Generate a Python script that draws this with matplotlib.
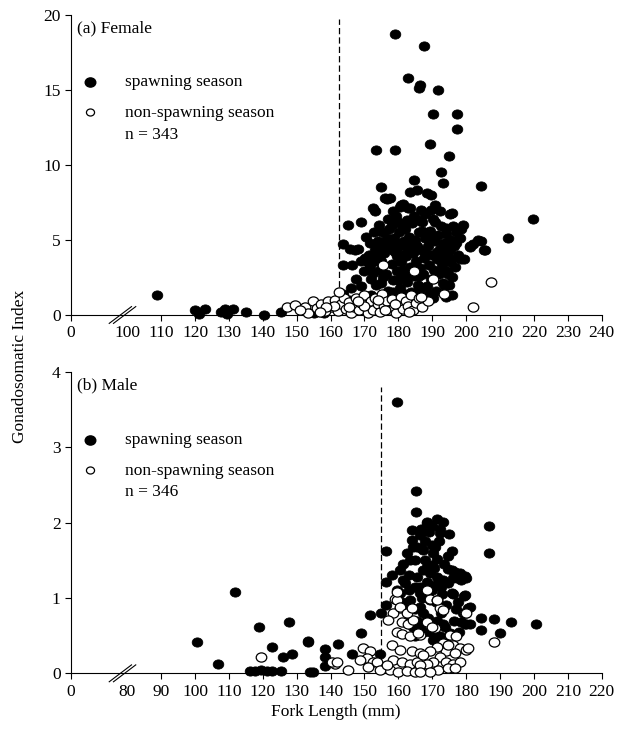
import matplotlib
matplotlib.use("Agg")
import matplotlib.pyplot as plt
import numpy as np
from matplotlib.path import Path
from matplotlib.transforms import Affine2D

plt.rcParams["font.family"] = ["Liberation Serif", "DejaVu Serif"]

# ---- (a) Female: fork length (mm), gonadosomatic index ----
fem_spawn = [
    # small fish
    (108.7, 1.3), (120.0, 0.3), (121.2, 0.05), (122.9, 0.4), (127.8, 0.2),
    (128.8, 0.4), (129.3, 0.05), (131.1, 0.4), (134.9, 0.2), (140.4, 0.0),
    (145.3, 0.2), (155.1, 0.15), (155.4, 0.2), (158.0, 0.1),
    # high values
    (179.0, 18.7), (187.6, 17.9), (182.7, 15.8), (186.0, 15.1), (186.5, 15.3),
    (191.6, 15.0), (190.1, 13.4), (197.2, 13.4), (197.2, 12.4), (173.4, 11.0),
    (179.0, 11.0), (189.3, 11.4), (194.9, 10.6), (192.5, 9.5), (193.2, 8.8),
    (204.5, 8.6), (184.5, 9.0), (174.8, 8.5), (176.1, 7.8), (176.6, 7.75),
    (183.4, 8.2), (185.4, 8.3), (188.3, 8.1), (189.6, 8.0), (219.6, 6.4),
    (212.4, 5.1), (204.5, 4.9), (205.3, 4.3), (201.1, 4.5), (202.1, 4.7),
    (198.4, 5.7), (199.1, 6.0), (198.1, 5.1), (199.3, 3.7), (194.9, 3.8),
    # middle band
    (165.2, 6.0), (169.1, 6.2), (163.7, 4.7), (165.7, 4.4), (167.2, 4.3),
    (163.7, 3.3), (166.2, 3.3), (172.4, 7.1), (173.1, 6.9), (174.2, 6.0),
    (177.0, 6.4), (180.4, 7.2), (181.4, 7.4), (183.4, 7.1), (186.8, 7.0),
    (190.8, 7.3), (192.2, 6.9), (195.2, 6.7), (195.9, 6.8), (180.0, 6.2),
    (182.4, 6.3), (185.8, 6.3), (190.8, 6.2), (194.2, 5.8), (177.5, 7.8),
    (180.9, 7.3), (182.9, 7.1), (178.5, 6.9), (184.5, 6.6), (188.0, 6.7),
    (189.5, 7.0),
    (170.1, 3.8), (171.6, 3.2), (172.6, 2.8), (174.0, 4.6), (175.5, 4.6),
    (177.5, 4.8), (178.5, 4.3), (179.5, 3.9), (169.1, 1.9), (175.0, 2.1),
    (168.6, 0.9), (163.7, 1.4), (165.5, 1.0),
    (201.1, 4.6), (203.5, 5.0), (205.5, 4.3), (195.2, 4.4), (197.6, 3.8),
    (198.6, 3.7), (194.7, 2.7), (193.7, 1.9), (195.7, 1.3), (194.2, 1.2),
    (190.3, 1.1), (183.4, 0.67), (179.2, 1.0),
    # dense core
    (170.5, 5.2), (171.2, 4.0), (172.0, 2.4), (172.8, 5.5), (173.4, 3.6),
    (173.9, 4.9), (174.6, 3.0), (175.2, 5.5), (175.8, 4.1), (176.3, 2.7),
    (176.9, 1.6), (177.3, 5.7), (177.7, 4.5), (178.1, 3.4), (178.4, 2.3),
    (178.8, 5.1), (179.1, 4.2), (179.4, 6.6), (179.7, 2.9), (180.1, 5.5),
    (180.4, 4.6), (180.6, 1.8), (180.9, 3.5), (181.2, 6.0), (181.5, 2.6),
    (181.7, 4.9), (182.0, 5.7), (182.3, 3.9), (182.6, 2.2), (182.9, 4.4),
    (183.2, 5.2), (183.5, 3.2), (183.8, 1.5), (184.1, 6.1), (184.4, 4.1),
    (184.7, 2.6), (185.0, 5.0), (185.3, 3.6), (185.6, 4.6), (185.9, 2.0),
    (186.2, 5.5), (186.5, 3.1), (186.8, 4.3), (187.1, 6.2), (187.4, 2.7),
    (187.7, 3.8), (188.0, 5.1), (188.3, 1.9), (188.6, 4.6), (188.9, 3.3),
    (189.2, 5.6), (189.5, 2.4), (189.8, 4.0), (190.1, 6.4), (190.4, 3.0),
    (190.7, 4.9), (191.0, 1.6), (191.3, 3.7), (191.6, 5.3), (191.9, 2.7),
    (192.2, 4.4), (192.5, 5.9), (192.8, 3.4), (193.1, 2.1), (193.4, 4.8),
    (193.7, 3.9), (194.1, 5.4), (194.4, 2.9), (194.7, 4.2), (195.1, 3.5),
    (195.5, 5.0), (195.9, 2.5), (196.3, 4.6), (196.7, 3.2), (197.1, 5.5),
    (197.5, 4.0), (196.0, 5.9), (178.0, 6.0), (176.0, 4.8), (174.0, 3.9),
    (171.5, 4.8), (170.0, 2.9), (169.0, 3.6), (168.0, 4.4), (184.0, 3.0),
    (187.0, 5.6), (181.0, 4.0), (183.0, 2.8), (189.0, 1.4), (185.0, 1.2),
    (177.0, 1.3), (172.0, 1.3), (167.5, 2.4), (166.0, 1.8),
    (171.0, 3.5), (173.0, 4.3), (175.0, 3.6), (176.5, 5.1), (179.5, 4.8),
    (181.5, 3.0), (183.5, 4.8), (186.0, 2.6), (188.0, 4.2), (190.0, 5.2),
    (191.5, 4.2), (193.0, 3.0), (195.0, 2.0), (197.0, 4.8), (180.0, 2.3),
    (182.0, 1.4), (186.5, 1.7), (175.5, 2.5), (178.5, 1.5), (173.5, 2.0),
]
fem_nonspawn = [
    (147.0, 0.5), (149.5, 0.65), (152.4, 0.5), (154.9, 0.9), (153.4, 0.15),
    (151.0, 0.3), (156.0, 0.45), (157.2, 0.75), (158.3, 0.25), (159.2, 0.95),
    (160.4, 0.5), (161.3, 1.0), (162.1, 0.25), (163.0, 0.7), (163.9, 1.15),
    (164.6, 0.4), (165.3, 0.85), (166.0, 0.1), (166.9, 0.55), (167.6, 1.1),
    (168.3, 0.3), (169.1, 0.8), (169.8, 1.3), (170.5, 0.5), (171.1, 0.1),
    (171.8, 0.9), (172.5, 0.35), (173.2, 1.1), (173.9, 0.7), (174.6, 0.2),
    (175.3, 1.4), (175.9, 0.6), (176.6, 0.95), (177.3, 0.3), (178.0, 1.05),
    (178.7, 0.5), (179.3, 0.1), (180.0, 0.8), (180.8, 1.2), (181.5, 0.4),
    (182.2, 0.9), (182.9, 0.6), (183.6, 1.3), (184.3, 0.3), (185.1, 0.8),
    (186.1, 1.1), (187.1, 0.5), (188.6, 0.9), (175.5, 3.3), (184.6, 2.9),
    (190.3, 2.4), (207.2, 2.2), (202.1, 0.5), (193.4, 1.4), (186.8, 1.2),
    (161.0, 0.6), (158.5, 0.5), (165.5, 0.5), (170.0, 0.6), (176.0, 0.3),
    (168.0, 0.9), (174.0, 1.0), (179.0, 0.7), (183.0, 0.2), (162.5, 1.5),
    (156.8, 0.2),
]

# ---- (b) Male ----
male_spawn = [
    (100.5, 0.41), (106.8, 0.12), (111.7, 1.08), (118.9, 0.61), (122.8, 0.35),
    (127.7, 0.68), (128.5, 0.26), (126.0, 0.21), (133.2, 0.43), (116.2, 0.03),
    (117.7, 0.03), (119.6, 0.05), (121.1, 0.03), (122.6, 0.03), (125.3, 0.03),
    (133.9, 0.02), (134.9, 0.02),
    (159.5, 3.60), (165.1, 2.42), (165.1, 2.14), (168.3, 2.00), (173.2, 2.01),
    (172.2, 1.92), (172.2, 1.86), (166.8, 1.88), (186.8, 1.95), (186.8, 1.60),
    (156.3, 1.62), (156.3, 1.21), (175.7, 1.62), (193.1, 0.68), (200.5, 0.66),
    (188.3, 0.72), (184.3, 0.73), (189.9, 0.54), (184.3, 0.58), (181.1, 0.66),
    (179.6, 0.66), (179.1, 0.80), (181.1, 0.88), (179.4, 1.03), (178.1, 1.33),
    (179.6, 1.29), (177.2, 1.26), (175.7, 1.37), (175.7, 1.07), (173.2, 0.65),
    (156.3, 0.91), (154.8, 0.80), (151.6, 0.77), (149.1, 0.53), (146.2, 0.26),
    (142.2, 0.39), (138.3, 0.32), (138.3, 0.22), (138.3, 0.10), (133.4, 0.42),
    (154.5, 0.26),
    (168.3, 2.01), (166.8, 1.92), (166.3, 1.83), (170.8, 1.68), (170.3, 1.59),
    (167.3, 1.64), (167.8, 1.50), (171.3, 1.52), (169.8, 1.44), (174.7, 1.39),
    (176.7, 1.35), (180.1, 1.26), (176.2, 1.26), (178.6, 1.24), (167.3, 1.37),
    (169.3, 1.33), (171.3, 1.28), (173.2, 1.24), (168.3, 1.21), (170.8, 1.17),
    (166.3, 1.15), (179.6, 1.04), (180.6, 0.86), (178.6, 0.68), (180.1, 0.66),
    (166.3, 0.88), (167.3, 0.80), (168.3, 0.71), (166.3, 0.62), (172.2, 0.49),
    (174.2, 0.40), (170.3, 0.44), (163.4, 1.50), (160.4, 1.37), (161.4, 1.24),
    (160.4, 1.06), (163.4, 0.97), (166.3, 1.06), (165.4, 1.28), (168.3, 1.41),
    (164.9, 1.50), (162.4, 1.59), (164.4, 1.68), (166.8, 1.66), (169.8, 1.70),
    (163.9, 1.77), (159.5, 1.10), (160.0, 0.97), (163.4, 0.71), (164.4, 0.62),
    (164.9, 0.49), (169.3, 0.97), (168.8, 0.73), (169.8, 0.53), (172.7, 0.80),
    (175.2, 0.53), (162.0, 1.20), (158.0, 1.30), (171.0, 0.95), (174.0, 0.90),
    (177.0, 0.85), (173.0, 1.05), (165.0, 0.85), (162.5, 0.85), (169.0, 1.88),
    (172.0, 1.75), (164.0, 1.90), (174.5, 1.55), (165.4, 1.67),
    (161.5, 1.45), (163.0, 1.30), (165.0, 1.15), (167.0, 1.00), (170.0, 1.10),
    (172.5, 1.15), (174.5, 1.20), (176.0, 1.05), (177.5, 0.95), (171.5, 0.70),
    (173.8, 0.62), (176.5, 0.70), (178.0, 0.55), (170.5, 1.40), (173.5, 1.45),
    (175.0, 1.85), (168.0, 1.75), (163.0, 1.10), (165.5, 0.70), (167.5, 0.55),
    (161.0, 0.95), (170.0, 1.95), (171.5, 2.05),
]
male_nonspawn = [
    (119.6, 0.22), (188.3, 0.42), (145.2, 0.04), (141.3, 0.12), (140.3, 0.15),
    (141.8, 0.15),
    (159.0, 0.99), (160.4, 0.86), (158.5, 0.80), (161.0, 0.68), (162.9, 0.66),
    (164.4, 0.71), (159.5, 0.55), (161.0, 0.52), (163.4, 0.49), (166.3, 0.51),
    (158.0, 0.38), (160.4, 0.31), (163.9, 0.30), (166.3, 0.27), (158.5, 0.18),
    (161.0, 0.15), (163.4, 0.13), (165.4, 0.15), (157.5, 0.04), (160.0, 0.02),
    (162.4, 0.03), (164.9, 0.02), (166.8, 0.04), (149.6, 0.33), (151.6, 0.29),
    (150.6, 0.20), (152.6, 0.15), (148.6, 0.18), (151.1, 0.09), (153.6, 0.15),
    (154.5, 0.04), (156.5, 0.11),
    (169.3, 0.99), (171.3, 0.97), (172.2, 0.86), (168.3, 0.68), (170.8, 0.60),
    (179.6, 0.80), (175.2, 0.51), (177.1, 0.49), (173.2, 0.40), (176.2, 0.38),
    (178.1, 0.33), (180.1, 0.31), (174.2, 0.29), (176.7, 0.27), (171.3, 0.35),
    (169.3, 0.29), (167.3, 0.24), (172.2, 0.22), (170.3, 0.15), (168.3, 0.13),
    (174.2, 0.15), (176.2, 0.13), (178.1, 0.15), (171.8, 0.04), (174.7, 0.07),
    (166.3, 0.11), (169.3, 0.02), (166.3, 0.02), (176.7, 0.07),
    (159.5, 0.97), (157.0, 0.71), (160.4, 0.88), (162.4, 0.80), (163.9, 0.86),
    (168.3, 1.10), (171.3, 0.97), (173.2, 0.84), (165.8, 0.53), (169.8, 0.62),
    (174.7, 0.38), (180.6, 0.33), (179.9, 0.80), (159.5, 1.08),
]

fem_cut = 162.4     # dashed line, females
male_cut = 155.0    # dashed line, males

# slightly wide dots, as printed in the original
dot = Path.unit_circle().transformed(Affine2D().scale(1.15, 1.0))
MS = 58


def setup_panel(ax, x0, brk, ticks, ymax, yticks):
    ax.set_xlim(x0, ticks[-1])
    ax.set_ylim(0, ymax)
    ax.spines["top"].set_visible(False)
    ax.spines["right"].set_visible(False)
    ax.set_xticks([x0, brk] + ticks)
    ax.set_xticklabels(["0", str(brk)] + [str(t) for t in ticks])
    ax.xaxis.get_major_ticks()[1].tick1line.set_visible(False)
    ax.set_yticks(yticks)
    ax.tick_params(direction="out", length=4.5, width=0.8, labelsize=12.5,
                   pad=3)
    # axis break marks
    for dx in (-0.004, 0.004):
        ax.plot([0.097 + dx - 0.021, 0.097 + dx + 0.021], [-0.028, 0.028],
                transform=ax.transAxes, color="black", lw=0.8, clip_on=False)


def draw_panel(ax, spawn, nonspawn, cut, cut_top, label, n_text):
    sp = np.array(spawn)
    ns = np.array(nonspawn)
    ax.scatter(sp[:, 0], sp[:, 1], s=MS, marker=dot, facecolor="black",
               edgecolor="black", linewidths=0.6, zorder=3, clip_on=False)
    ax.scatter(ns[:, 0], ns[:, 1], s=MS, marker=dot, facecolor="white",
               edgecolor="black", linewidths=0.9, zorder=4, clip_on=False)
    ax.plot([cut, cut], [0, cut_top], color="black", lw=0.9,
            linestyle=(0, (5, 2.5)), zorder=2)

    ax.text(0.011, 0.955, label, transform=ax.transAxes, fontsize=12.5,
            va="center", ha="left")
    ax.scatter([0.036], [0.775], s=MS, marker=dot, facecolor="black",
               edgecolor="black", transform=ax.transAxes, clip_on=False)
    ax.scatter([0.036], [0.675], s=34, marker=dot, facecolor="white",
               edgecolor="black", linewidths=0.9, transform=ax.transAxes,
               clip_on=False)
    ax.text(0.102, 0.775, "spawning season", transform=ax.transAxes,
            fontsize=12.5, va="center")
    ax.text(0.102, 0.672, "non-spawning season", transform=ax.transAxes,
            fontsize=12.5, va="center")
    ax.text(0.102, 0.600, n_text, transform=ax.transAxes, fontsize=12.5,
            va="center")


fig = plt.figure(figsize=(6.29, 7.31), dpi=100)
ax1 = fig.add_axes([0.1129, 0.5691, 0.8437, 0.4104])
ax2 = fig.add_axes([0.1129, 0.0789, 0.8437, 0.4126])

setup_panel(ax1, 83.4, 100, list(range(110, 241, 10)), 20, [0, 5, 10, 15, 20])
draw_panel(ax1, fem_spawn, fem_nonspawn, fem_cut, 19.7, "(a) Female",
           "n = 343")

setup_panel(ax2, 63.4, 80, list(range(90, 221, 10)), 4, [0, 1, 2, 3, 4])
draw_panel(ax2, male_spawn, male_nonspawn, male_cut, 3.8, "(b) Male",
           "n = 346")

fig.text(0.032, 0.4993, "Gonadosomatic Index", rotation=90, fontsize=12.5,
         ha="center", va="center")
fig.text(0.534, 0.026, "Fork Length (mm)", fontsize=12.5, ha="center",
         va="center")

fig.savefig("out.png", dpi=100)
